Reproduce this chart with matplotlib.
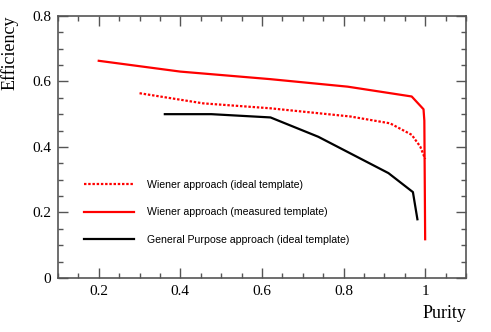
import numpy as np
import matplotlib
matplotlib.use("Agg")
import matplotlib.pyplot as plt
from matplotlib.ticker import MultipleLocator

# Wiener approach, ideal template (dotted red)
ideal_x = [0.30, 0.456, 0.62, 0.816, 0.914, 0.967, 0.988, 1.0]
ideal_y = [0.564, 0.533, 0.518, 0.493, 0.472, 0.437, 0.401, 0.363]

# Wiener approach, measured template (solid red)
meas_x = [0.20, 0.40, 0.62, 0.81, 0.967, 0.996, 0.998, 1.0]
meas_y = [0.663, 0.630, 0.607, 0.584, 0.554, 0.515, 0.48, 0.118]

# General purpose approach, ideal template (black)
gp_x = [0.362, 0.476, 0.621, 0.738, 0.91, 0.97, 0.981]
gp_y = [0.500, 0.500, 0.490, 0.431, 0.320, 0.262, 0.179]

labels = ["Wiener approach (ideal template)",
          "Wiener approach (measured template)",
          "General Purpose approach (ideal template)"]

serif = ["Liberation Serif", "DejaVu Serif"]
sans = ["Liberation Sans", "DejaVu Sans"]

fig = plt.figure(figsize=(4.91, 3.32), dpi=100)
ax = fig.add_axes([0.118, 0.163, 0.831, 0.789])

ax.plot(ideal_x, ideal_y, color="red", lw=1.6, linestyle=(0, (1.1, 0.8)), label=labels[0])
ax.plot(meas_x, meas_y, color="red", lw=1.6, label=labels[1])
ax.plot(gp_x, gp_y, color="black", lw=1.6, label=labels[2])

ax.set_xlim(0.1, 1.1)
ax.set_ylim(0, 0.8)
ax.xaxis.set_minor_locator(MultipleLocator(0.05))
ax.yaxis.set_minor_locator(MultipleLocator(0.05))
ax.set_xticks([0.2, 0.4, 0.6, 0.8, 1.0])
ax.set_xticklabels(["0.2", "0.4", "0.6", "0.8", "1"])
ax.set_yticks([0, 0.2, 0.4, 0.6, 0.8])
ax.set_yticklabels(["0", "0.2", "0.4", "0.6", "0.8"])

frame = "#555555"
for s in ax.spines.values():
    s.set_color(frame)
    s.set_linewidth(1.2)
ax.tick_params(which="both", direction="in", top=True, right=True, color=frame, width=1.0)
ax.tick_params(which="major", length=7, pad=5)
ax.tick_params(which="minor", length=3.5)
for lab in ax.get_xticklabels() + ax.get_yticklabels():
    lab.set_family(serif)
    lab.set_fontsize(11)

ax.text(-0.118, 1.003, "Efficiency", transform=ax.transAxes, rotation=90,
        ha="center", va="top", family=serif, fontsize=13)
ax.text(1.0, -0.105, "Purity", transform=ax.transAxes, ha="right", va="top",
        family=serif, fontsize=13)

ax.legend(loc="upper left", bbox_to_anchor=(0.04, 0.41), frameon=False,
          prop={"family": sans, "size": 7.6}, handlelength=4.8, handletextpad=1.2,
          labelspacing=1.65)

plt.savefig("out.png", dpi=100)
